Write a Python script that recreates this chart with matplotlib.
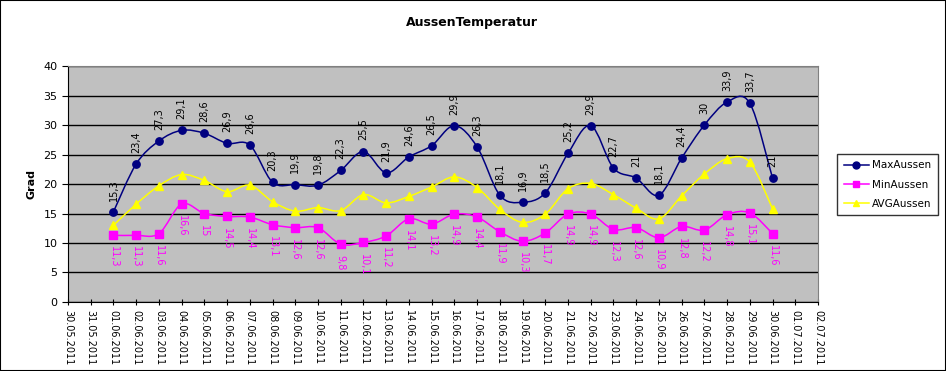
import datetime as dt
import numpy as np
import matplotlib
matplotlib.use("Agg")
import matplotlib.pyplot as plt
import matplotlib.dates as mdates
from matplotlib.path import Path
from matplotlib.patches import PathPatch, Rectangle

# daily values 01.06.2011 - 30.06.2011
days = [dt.datetime(2011, 6, d) for d in range(1, 31)]
max_aussen = [15.3, 23.4, 27.3, 29.1, 28.6, 26.9, 26.6, 20.3, 19.9, 19.8,
              22.3, 25.5, 21.9, 24.6, 26.5, 29.9, 26.3, 18.1, 16.9, 18.5,
              25.2, 29.9, 22.7, 21.0, 18.1, 24.4, 30.0, 33.9, 33.7, 21.0]
min_aussen = [11.3, 11.3, 11.6, 16.6, 15.0, 14.5, 14.4, 13.1, 12.6, 12.6,
              9.8, 10.1, 11.2, 14.1, 13.2, 14.9, 14.4, 11.9, 10.3, 11.7,
              14.9, 14.9, 12.3, 12.6, 10.9, 12.8, 12.2, 14.8, 15.1, 11.6]
avg_aussen = [13.0, 16.6, 19.7, 21.6, 20.6, 18.7, 19.8, 17.0, 15.4, 16.0,
              15.5, 18.2, 16.8, 17.9, 19.5, 21.2, 19.4, 15.7, 13.5, 14.9,
              19.2, 20.1, 18.2, 15.9, 14.1, 18.0, 21.7, 24.3, 23.7, 15.8]


def smooth_path(x, y):
    # excel-like smoothed line: bezier segments through the points
    pts = np.column_stack([x, y])
    n = len(pts)
    verts = [pts[0]]
    codes = [Path.MOVETO]
    for i in range(n - 1):
        p0 = pts[i - 1] if i > 0 else pts[i]
        p3 = pts[i + 2] if i + 2 < n else pts[i + 1]
        c1 = pts[i] + (pts[i + 1] - p0) / 6
        c2 = pts[i + 1] - (p3 - pts[i]) / 6
        verts += [c1, c2, pts[i + 1]]
        codes += [Path.CURVE4] * 3
    return Path(verts, codes)


def fmt(v):
    s = f"{v:.1f}".replace(".", ",")
    return s[:-2] if s.endswith(",0") else s


fig = plt.figure(figsize=(9.46, 3.71), dpi=100)
fig.patches.append(Rectangle((0, 0), 1, 1, transform=fig.transFigure,
                             fill=False, edgecolor="black", lw=1.5))
ax = fig.add_axes([0.0719, 0.186, 0.7928, 0.636])
ax.set_facecolor("#c0c0c0")

xn = mdates.date2num(days)
series = [
    ("MaxAussen", max_aussen, "#000080", "o"),
    ("MinAussen", min_aussen, "#ff00ff", "s"),
    ("AVGAussen", avg_aussen, "#ffff00", "^"),
]
for name, vals, col, mk in series:
    ax.add_patch(PathPatch(smooth_path(xn, vals), fill=False, edgecolor=col,
                           lw=1.1, zorder=3))
    ax.plot(days, vals, linestyle="none", marker=mk, color=col,
            markersize=5.3, zorder=4)
    # legend handle
    ax.plot([], [], color=col, marker=mk, markersize=5, lw=1.1, label=name)

for d, v in zip(days, max_aussen):
    ax.annotate(fmt(v), (d, v), xytext=(0, 8), textcoords="offset points",
                rotation=90, ha="center", va="bottom", fontsize=7,
                color="black", zorder=5)
for d, v in zip(days, min_aussen):
    ax.annotate(fmt(v), (d, v), xytext=(0, -8), textcoords="offset points",
                rotation=270, ha="center", va="top", fontsize=7,
                color="#ff00ff", zorder=5)

ax.set_xlim(dt.datetime(2011, 5, 30), dt.datetime(2011, 7, 2))
ax.set_ylim(0, 40)
ax.set_yticks(range(0, 41, 5))
ax.yaxis.grid(True, color="black", lw=1)
ax.set_axisbelow(True)
ax.xaxis.set_major_locator(mdates.DayLocator())
ax.xaxis.set_major_formatter(mdates.DateFormatter("%d.%m.%Y"))
plt.setp(ax.get_xticklabels(), rotation=270, ha="center", va="top", fontsize=7)
ax.tick_params(axis="y", labelsize=8, length=4, direction="out")
ax.tick_params(axis="x", length=4, direction="inout", pad=4)
for s in ("top", "right"):
    ax.spines[s].set_color("#808080")
for s in ("left", "bottom"):
    ax.spines[s].set_color("black")

ax.set_ylabel("Grad", fontsize=8, fontweight="bold", labelpad=5)
fig.text(0.499, 0.94, "AussenTemperatur", ha="center", va="center",
         fontsize=9, fontweight="bold")

leg = fig.legend(loc="center left", bbox_to_anchor=(0.883, 0.502),
                 fontsize=7.5, frameon=True, fancybox=False, handlelength=2.4,
                 borderpad=0.6, labelspacing=0.9, handletextpad=0.3,
                 borderaxespad=0.2)
leg.get_frame().set_edgecolor("black")
leg.get_frame().set_linewidth(1)

fig.savefig("out.png", dpi=100)
